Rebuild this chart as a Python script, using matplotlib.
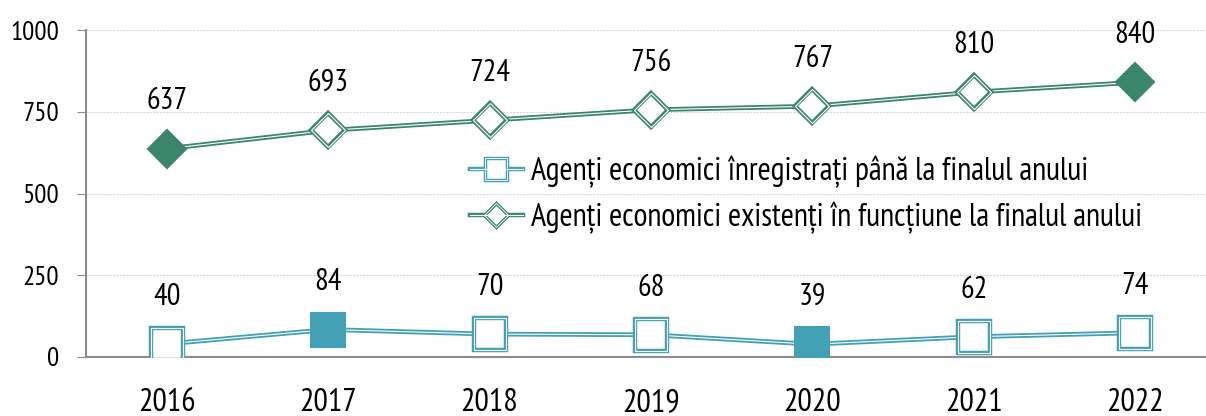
import matplotlib
matplotlib.use("Agg")
import matplotlib.pyplot as plt
from matplotlib.lines import Line2D
from matplotlib import font_manager

# ---- data ----
years = ["2016", "2017", "2018", "2019", "2020", "2021", "2022"]
registered = [40, 84, 70, 68, 39, 62, 74]
existing = [637, 693, 724, 756, 767, 810, 840]
label_registered = "Agenți economici înregistrați până la finalul anului"
label_existing = "Agenți economici existenți în funcțiune la finalul anului"
y_ticks = [0, 250, 500, 750, 1000]

BLUE = "#44A0B4"
GREEN = "#3B866A"

# pick a narrow font
names = {f.name for f in font_manager.fontManager.ttflist}
fam = "DejaVu Sans"
for cand in ["PT Sans Narrow", "Fira Sans Condensed", "Roboto Condensed", "Liberation Sans Narrow"]:
    if cand in names:
        fam = cand
        break
plt.rcParams["font.family"] = [fam, "DejaVu Sans"]

fig = plt.figure(figsize=(12.06, 4.16), dpi=100)
ax = fig.add_axes([86 / 1206, 59 / 416, 1130 / 1206, 327 / 416])

x = list(range(len(years)))


def draw_series(vals, color, marker, ms, filled_idx):
    # double line: coloured band with thin white core
    ax.plot(x, vals, color=color, lw=3.4, zorder=3, solid_capstyle="butt")
    ax.plot(x, vals, color="white", lw=0.8, zorder=4)
    for i, v in enumerate(vals):
        if i in filled_idx:
            ax.plot(i, v, marker=marker, ms=ms + 2, mfc=color, mec=color, mew=1.5, zorder=5)
        else:
            ax.plot(i, v, marker=marker, ms=ms, mfc="white", mec=color, mew=3.2, zorder=5)
            ax.plot(i, v, marker=marker, ms=ms, mfc="none", mec="white", mew=0.8, zorder=6)
        ax.annotate(str(v), (i, v), xytext=(0, 34), textcoords="offset points",
                    ha="center", va="center", fontsize=22, color="black")


draw_series(registered, BLUE, "s", 23, [registered.index(max(registered)), registered.index(min(registered))])
draw_series(existing, GREEN, "D", 17, [existing.index(min(existing)), existing.index(max(existing))])

ax.set_xlim(-0.5, len(years) - 0.5)
ax.set_ylim(0, 1000)
ax.set_xticks(x)
ax.set_xticklabels(years, fontsize=23)
ax.set_yticks(y_ticks)
ax.set_yticklabels([str(t) for t in y_ticks], fontsize=19.5)
ax.tick_params(axis="x", length=0, pad=22)
ax.tick_params(axis="y", length=6.5, color="#8c8c8c", pad=13)

ax.grid(axis="y", color="#d9d9d9", lw=0.8, ls=(0, (2, 1)))
ax.set_axisbelow(True)
for side in ["top", "right"]:
    ax.spines[side].set_visible(False)
for side in ["left", "bottom"]:
    ax.spines[side].set_color("#8c8c8c")
    ax.spines[side].set_linewidth(1.5)

# legend handles with double line look
h_reg = (Line2D([], [], color=BLUE, lw=3.2, marker="s", ms=16, mfc="white", mec=BLUE, mew=2.5),
         Line2D([], [], color="white", lw=0.8, marker="s", ms=16, mfc="none", mec="white", mew=0.6))
h_ex = (Line2D([], [], color=GREEN, lw=3.2, marker="D", ms=12, mfc="white", mec=GREEN, mew=2.5),
        Line2D([], [], color="white", lw=0.8, marker="D", ms=12, mfc="none", mec="white", mew=0.6))
fig.legend([h_reg, h_ex], [label_registered, label_existing],
           loc="center left", bbox_to_anchor=(470 / 1206, 1 - 195 / 416),
           frameon=False, fontsize=23, handlelength=1.65, handletextpad=0.25,
           labelspacing=0.42, borderaxespad=0, borderpad=0)

fig.savefig("out.png", dpi=100)
